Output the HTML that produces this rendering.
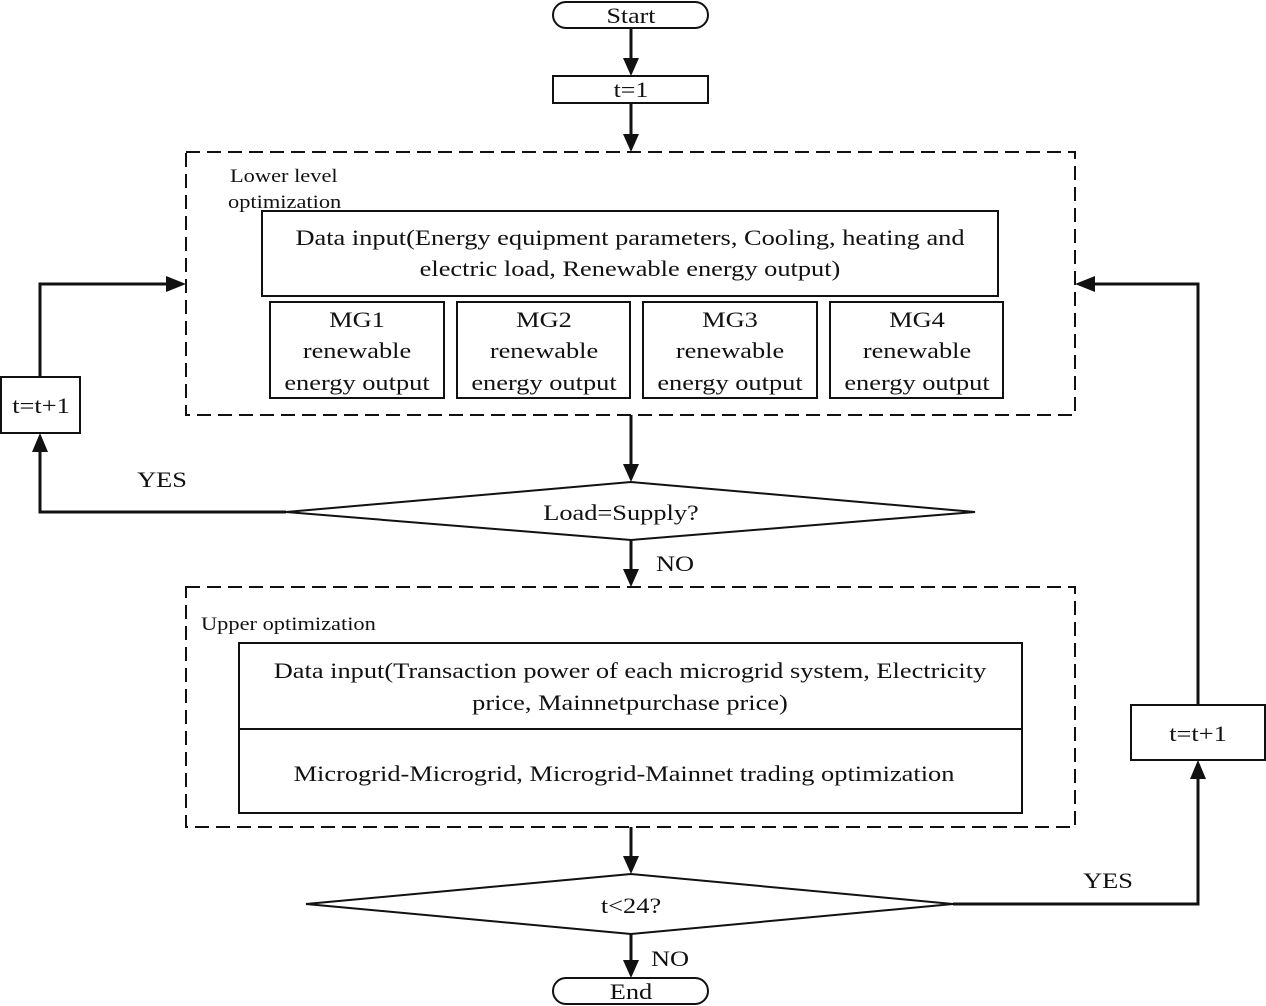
<!DOCTYPE html>
<html><head><meta charset="utf-8"><style>
html,body{margin:0;padding:0;background:#fff;}
svg{display:block;}
text{font-family:"Liberation Serif",serif;fill:#111;}
</style></head><body>
<svg width="1266" height="1006" viewBox="0 0 1266 1006" xmlns="http://www.w3.org/2000/svg">
<g stroke="#111" stroke-width="2" fill="none">
<rect x="553" y="2" width="155" height="26" rx="13"/>
<rect x="553" y="76" width="155" height="27"/>
<rect x="186" y="152" width="889" height="263" stroke-dasharray="14,7"/>
<rect x="262" y="211" width="736" height="85"/>
<rect x="270" y="302" width="174" height="96"/>
<rect x="457" y="302" width="173" height="96"/>
<rect x="643" y="302" width="174" height="96"/>
<rect x="830" y="302" width="173" height="96"/>
<polygon points="286,512 631,482 975,512 631,540"/>
<rect x="1" y="377" width="79" height="56"/>
<rect x="186" y="587" width="889" height="240" stroke-dasharray="14,7"/>
<rect x="239" y="643" width="783" height="170"/>
<line x1="239" y1="729" x2="1022" y2="729"/>
<polygon points="306,904 631,874 953,904 631,934"/>
<rect x="1131" y="705" width="134" height="55"/>
<rect x="553" y="978" width="155" height="26" rx="13"/>
</g>
<g stroke="#111" stroke-width="3" fill="none">
<line x1="631" y1="28" x2="631" y2="60"/>
<line x1="631" y1="103" x2="631" y2="136"/>
<line x1="631" y1="415" x2="631" y2="466"/>
<polyline points="286,512 40,512 40,450"/>
<polyline points="40,377 40,284 168,284"/>
<line x1="631" y1="540" x2="631" y2="571"/>
<line x1="631" y1="827" x2="631" y2="858"/>
<polyline points="953,904 1198,904 1198,777"/>
<polyline points="1198,705 1198,284 1093,284"/>
<line x1="631" y1="934" x2="631" y2="962"/>
</g>
<g fill="#111">
<polygon points="623,58 639,58 631,76"/>
<polygon points="623,134 639,134 631,152"/>
<polygon points="623,464 639,464 631,482"/>
<polygon points="32,452 48,452 40,433"/>
<polygon points="166,276 166,292 186,284"/>
<polygon points="623,569 639,569 631,587"/>
<polygon points="623,856 639,856 631,874"/>
<polygon points="1190,779 1206,779 1198,760"/>
<polygon points="1095,276 1095,292 1075,284"/>
<polygon points="623,960 639,960 631,978"/>
</g>
<g font-size="22" text-anchor="middle">
<text transform="translate(631,23) scale(1.18,1)">Start</text>
<text transform="translate(631,97) scale(1.18,1)">t=1</text>
<text transform="translate(630,245) scale(1.2,1)">Data input(Energy equipment parameters, Cooling, heating and</text>
<text transform="translate(630,276) scale(1.2,1)">electric load, Renewable energy output)</text>
<text transform="translate(357,327) scale(1.2,1)">MG1</text><text transform="translate(357,358) scale(1.2,1)">renewable</text><text transform="translate(357,390) scale(1.2,1)">energy output</text>
<text transform="translate(544,327) scale(1.2,1)">MG2</text><text transform="translate(544,358) scale(1.2,1)">renewable</text><text transform="translate(544,390) scale(1.2,1)">energy output</text>
<text transform="translate(730,327) scale(1.2,1)">MG3</text><text transform="translate(730,358) scale(1.2,1)">renewable</text><text transform="translate(730,390) scale(1.2,1)">energy output</text>
<text transform="translate(917,327) scale(1.2,1)">MG4</text><text transform="translate(917,358) scale(1.2,1)">renewable</text><text transform="translate(917,390) scale(1.2,1)">energy output</text>
<text transform="translate(621,520) scale(1.2,1)">Load=Supply?</text>
<text transform="translate(41,413) scale(1.2,1)">t=t+1</text>
<text transform="translate(162,487) scale(1.2,1)">YES</text>
<text transform="translate(675,571) scale(1.2,1)">NO</text>
<text transform="translate(630,678) scale(1.2,1)">Data input(Transaction power of each microgrid system, Electricity</text>
<text transform="translate(630,710) scale(1.2,1)">price, Mainnetpurchase price)</text>
<text transform="translate(624,781) scale(1.2,1)">Microgrid-Microgrid, Microgrid-Mainnet trading optimization</text>
<text transform="translate(631,913) scale(1.2,1)">t&lt;24?</text>
<text transform="translate(1198,741) scale(1.2,1)">t=t+1</text>
<text transform="translate(1108,888) scale(1.2,1)">YES</text>
<text transform="translate(670,966) scale(1.2,1)">NO</text>
<text transform="translate(631,999) scale(1.2,1)">End</text>
</g>
<g font-size="19">
<text transform="translate(230,182) scale(1.18,1)">Lower level</text>
<text transform="translate(228,208) scale(1.18,1)">optimization</text>
<text transform="translate(201,630) scale(1.18,1)">Upper optimization</text>
</g>
</svg>
</body></html>
